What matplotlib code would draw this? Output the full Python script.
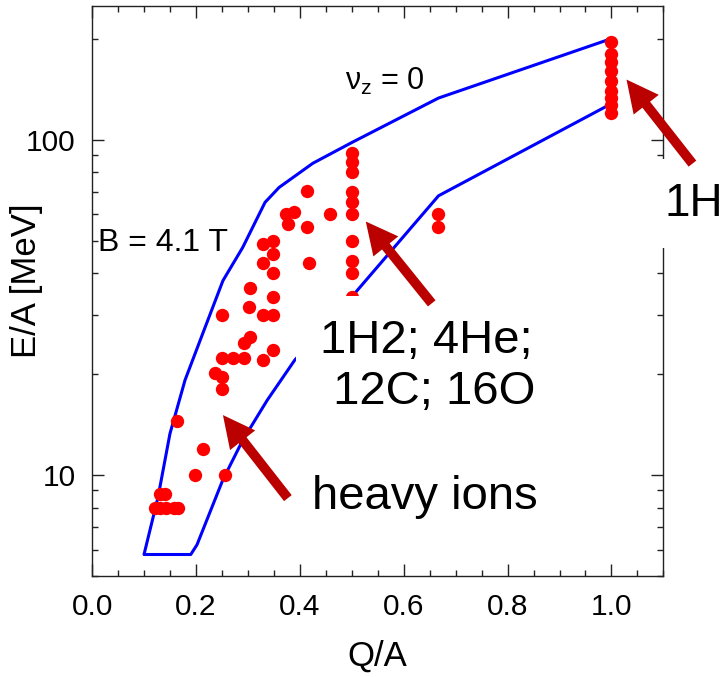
import numpy as np
import matplotlib
matplotlib.use('Agg')
import matplotlib.pyplot as plt
from matplotlib.ticker import MultipleLocator, LogLocator, NullFormatter, FixedLocator, FixedFormatter

plt.rcParams['font.family'] = ['Liberation Sans', 'DejaVu Sans']
plt.rcParams['mathtext.fontset'] = 'custom'
plt.rcParams['mathtext.rm'] = 'Liberation Sans'
plt.rcParams['mathtext.it'] = 'Liberation Sans:italic'

# acceptance boundary (nu_z = 0 on top, lower limit below)
upper_qa = [0.10, 0.127, 0.15, 0.179, 0.208, 0.252, 0.29, 0.333, 0.36, 0.425, 0.5, 0.667, 1.0]
upper_ea = [5.8, 8.6, 13.3, 19.2, 25.2, 38.0, 47.7, 65.0, 72.0, 85.0, 98.0, 133.0, 200.0]
lower_qa = [0.10, 0.19, 0.202, 0.252, 0.29, 0.337, 0.39, 0.5, 0.667, 1.0]
lower_ea = [5.8, 5.8, 6.2, 9.7, 12.7, 16.7, 22.0, 34.0, 68.0, 128.0]

# ion beams
ion_qa = [0.121, 0.131, 0.142, 0.158, 0.166, 0.131, 0.140, 0.163, 0.198, 0.213,
          0.256, 0.237, 0.25, 0.25, 0.25, 0.271, 0.292, 0.292, 0.304, 0.329,
          0.348, 0.25, 0.329, 0.348, 0.302, 0.304, 0.348, 0.348, 0.329, 0.348,
          0.329, 0.348, 0.373, 0.388, 0.377, 0.413, 0.413, 0.458, 0.417]
ion_ea = [8.0, 8.0, 8.0, 8.0, 8.0, 8.8, 8.8, 14.5, 10.0, 12.0,
          10.0, 20.1, 19.6, 18.0, 22.4, 22.4, 22.3, 24.7, 25.8, 22.0,
          23.6, 30.1, 30.1, 30.1, 31.8, 36.0, 33.9, 39.9, 43.0, 45.5,
          49.0, 50.0, 60.0, 61.0, 56.0, 70.5, 55.0, 60.0, 43.0]
light_qa = [0.5] * 10 + [0.667, 0.667]
light_ea = [91, 85.5, 80, 70, 65, 60, 50, 43.5, 40, 34, 60, 55]
proton_qa = [1.0] * 9
proton_ea = [195, 180, 170, 160, 150, 140, 133, 127, 120]

fig = plt.figure(figsize=(7.25, 6.77), dpi=100)
ax = fig.add_axes([0.127, 0.149, 0.788, 0.842])

bq = np.concatenate([upper_qa[::-1], lower_qa[1:]])
be = np.concatenate([upper_ea[::-1], lower_ea[1:]])
ax.plot(bq, be, color='#0000ff', lw=2.2, zorder=2)

for q, e in [(ion_qa, ion_ea), (light_qa, light_ea), (proton_qa, proton_ea)]:
    ax.plot(q, e, 'o', color='#ff0000', ms=9.6, mec='none', zorder=3)

ax.set_yscale('log')
ax.set_xlim(0, 1.1)
ax.set_ylim(5, 250)

ax.xaxis.set_major_locator(MultipleLocator(0.2))
ax.xaxis.set_minor_locator(MultipleLocator(0.05))
ax.yaxis.set_major_locator(FixedLocator([10, 100]))
ax.yaxis.set_major_formatter(FixedFormatter(['10', '100']))
ax.yaxis.set_minor_locator(LogLocator(base=10, subs=np.arange(2, 10)))
ax.yaxis.set_minor_formatter(NullFormatter())
ax.tick_params(which='both', direction='in', top=True, right=True, width=1.0, colors='#222222')
ax.tick_params(which='major', length=8.5, labelsize=21.5, labelcolor='black')
ax.tick_params(which='minor', length=4.3)
ax.tick_params(axis='x', pad=12.5)
ax.tick_params(axis='y', pad=12)
for s in ax.spines.values():
    s.set_linewidth(1.0)
    s.set_color('#222222')

ax.set_xlabel('Q/A', fontsize=25)
ax.set_ylabel('E/A [MeV]', fontsize=25)
ax.xaxis.set_label_coords(0.5, -0.112)
ax.yaxis.set_label_coords(-0.086, 0.519)

ax.text(0.487, 141, r'ν$_\mathrm{z}$ = 0', fontsize=22, ha='left', va='baseline')
ax.text(0.0115, 46.4, 'B = 4.1 T', fontsize=23, ha='left', va='baseline')

box = dict(facecolor='white', edgecolor='none', boxstyle='square,pad=0.5')
ax.text(1.102, 64.5, '1H', fontsize=33, ha='left', va='center', bbox=box, zorder=5, clip_on=False)
ax.text(0.438, 29.1, '1H2; 4He;\n 12C; 16O', fontsize=34, ha='left', va='top', bbox=box, zorder=5)
ax.text(0.423, 10.0, 'heavy ions', fontsize=34, ha='left', va='top', bbox=box, zorder=5)

arrow = dict(facecolor='#bb0000', edgecolor='none', width=7, headwidth=23, headlength=23, shrink=0)
ax.annotate('', xy=(1.029, 151), xytext=(1.156, 84.8), arrowprops=arrow, zorder=6, annotation_clip=False)
ax.annotate('', xy=(0.527, 57), xytext=(0.654, 32.5), arrowprops=arrow, zorder=6)
ax.annotate('', xy=(0.252, 15.1), xytext=(0.377, 8.54), arrowprops=arrow, zorder=6)

fig.savefig('out.png', dpi=100)
